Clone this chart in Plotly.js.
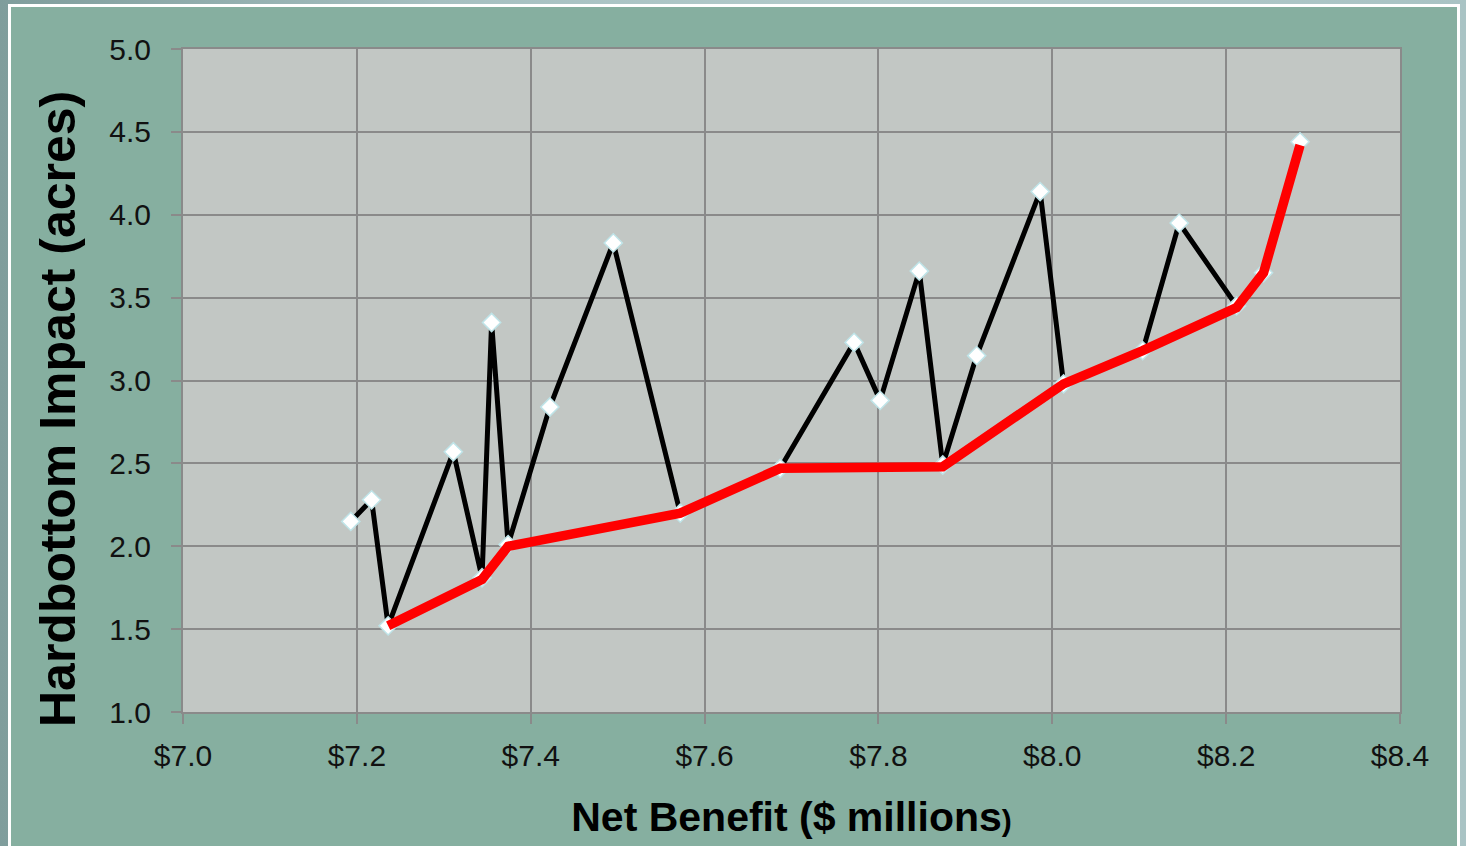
<!DOCTYPE html>
<html>
<head>
<meta charset="utf-8">
<script src="https://cdn.plot.ly/plotly-3.0.1.min.js"></script>
<style>
  html, body { margin: 0; padding: 0; width: 1466px; height: 846px; overflow: hidden;
    background: linear-gradient(90deg, #7f9d9c 0%, #a6c0c1 30%, #b3cbcb 60%, #a9c3c4 100%); }
  #frame { position: absolute; left: 8px; top: 4px; width: 1446px; height: 860px;
    border: 3px solid #ffffff; background: #86afa0; }
  #chart { position: absolute; left: 0; top: 0; width: 1466px; height: 846px; }
</style>
</head>
<body>
<div id="frame"></div>
<div id="chart"></div>
<script>
// All alternatives, in order of net benefit ($ millions)
const netBenefit = [7.193, 7.217, 7.236, 7.311, 7.344, 7.355, 7.374, 7.422, 7.495, 7.572, 7.687, 7.772,
                    7.802, 7.847, 7.874, 7.913, 7.986, 8.013, 8.104, 8.146, 8.212, 8.243, 8.285];
const hardbottom = [2.15, 2.28, 1.52, 2.57, 1.81, 3.35, 2.01, 2.84, 3.83, 2.20, 2.47, 3.23,
                    2.88, 3.66, 2.49, 3.15, 4.14, 2.98, 3.18, 3.95, 3.45, 3.65, 4.44];
// Efficient frontier
const frontierX = [7.236, 7.344, 7.374, 7.572, 7.687, 7.874, 8.013, 8.104, 8.212, 8.243, 8.285];
const frontierY = [1.52, 1.80, 2.00, 2.20, 2.47, 2.48, 2.98, 3.18, 3.44, 3.65, 4.42];

const xTickVals = [7.0, 7.2, 7.4, 7.6, 7.8, 8.0, 8.2, 8.4];
const xTickText = ['$7.0', '$7.2', '$7.4', '$7.6', '$7.8', '$8.0', '$8.2', '$8.4'];
const yTickVals = [1.0, 1.5, 2.0, 2.5, 3.0, 3.5, 4.0, 4.5, 5.0];
const yTickText = ['1.0', '1.5', '2.0', '2.5', '3.0', '3.5', '4.0', '4.5', '5.0'];

const xTitle = 'Net Benefit ($ millions<span style="font-size:30px">)</span>';
const yTitle = 'Hardbottom Impact (acres)';

const traces = [
  {
    x: netBenefit, y: hardbottom, type: 'scatter', mode: 'lines+markers',
    line: { color: '#000000', width: 5 },
    marker: { symbol: 'diamond', size: 14, color: '#ffffff', line: { color: '#bfe4e8', width: 1.5 } },
    hoverinfo: 'skip'
  },
  {
    x: frontierX, y: frontierY, type: 'scatter', mode: 'lines',
    line: { color: '#ff0000', width: 9.5 },
    hoverinfo: 'skip'
  }
];

const axisCommon = {
  showline: true, mirror: true, linecolor: '#8a8a8a', linewidth: 2,
  showgrid: true, gridcolor: '#8a8a8a', gridwidth: 2,
  ticks: 'outside', ticklen: 10, tickwidth: 2, tickcolor: '#8a8a8a',
  zeroline: false,
  tickfont: { family: 'Liberation Sans, Arial, sans-serif', size: 30, color: '#111111' }
};

const layout = {
  width: 1466, height: 846,
  margin: { l: 183, r: 66, t: 49, b: 134 },
  paper_bgcolor: 'rgba(0,0,0,0)',
  plot_bgcolor: '#c2c7c4',
  showlegend: false,
  xaxis: Object.assign({}, axisCommon, {
    range: [7.0, 8.4], tickmode: 'array', tickvals: xTickVals, ticktext: xTickText,
    ticklabelstandoff: 6,
    title: { text: xTitle,
             font: { family: 'Liberation Sans, Arial, sans-serif', size: 41, color: '#000000', weight: 'bold' },
             standoff: 31 }
  }),
  yaxis: Object.assign({}, axisCommon, {
    range: [1.0, 5.0], tickmode: 'array', tickvals: yTickVals, ticktext: yTickText,
    ticklabelstandoff: 14
  }),
  annotations: [{
    text: yTitle, textangle: -90, showarrow: false,
    xref: 'paper', yref: 'paper', x: (58 - 183) / 1217, y: (712 - 409) / 663,
    xanchor: 'center', yanchor: 'middle',
    font: { family: 'Liberation Sans, Arial, sans-serif', size: 50, color: '#000000', weight: 'bold' }
  }]
};

Plotly.newPlot('chart', traces, layout, { displayModeBar: false, staticPlot: true });
</script>
</body>
</html>
